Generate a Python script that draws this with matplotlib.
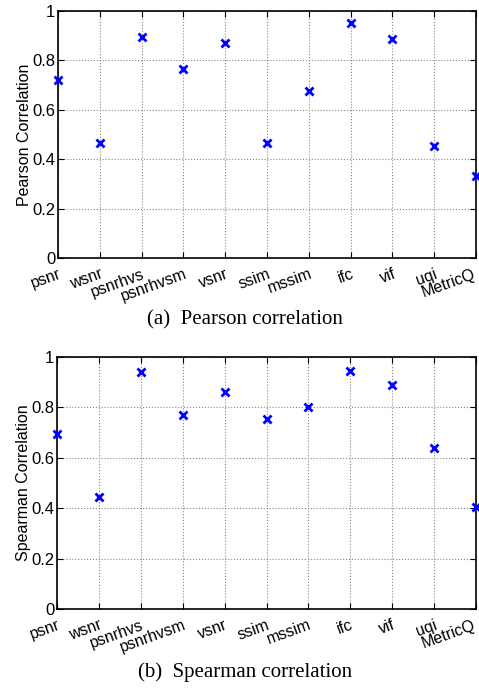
import matplotlib
matplotlib.use('Agg')
import matplotlib.pyplot as plt
import matplotlib.transforms as mtransforms

metrics = ['psnr', 'wsnr', 'psnrhvs', 'psnrhvsm', 'vsnr', 'ssim', 'mssim',
           'ifc', 'vif', 'uqi', 'MetricQ']
pearson = [0.72, 0.467, 0.896, 0.765, 0.872, 0.467, 0.675, 0.953, 0.885, 0.453, 0.332]
spearman = [0.696, 0.446, 0.942, 0.770, 0.860, 0.753, 0.802, 0.946, 0.890, 0.638, 0.406]

plt.rcParams['font.family'] = ['Liberation Sans', 'DejaVu Sans']

fig = plt.figure(figsize=(4.79, 6.89), dpi=100)
ax1 = fig.add_axes([0.121, 0.6255, 0.873, 0.3585])
ax2 = fig.add_axes([0.119, 0.116, 0.875, 0.366])

x = list(range(1, len(metrics) + 1))
shift = mtransforms.ScaledTranslation(-4 / 100, 0, fig.dpi_scale_trans)

def draw(ax, vals, ylabel):
    ax.plot(x, vals, 'x', color='#0000ff', markersize=6, markeredgewidth=2,
            linestyle='none', clip_on=False, zorder=5)
    ax.set_xlim(1, 11)
    ax.set_ylim(0, 1)
    ax.set_xticks(x)
    ax.set_xticklabels(metrics, rotation=20, ha='right', rotation_mode='anchor',
                       fontsize=11.5)
    ax.set_yticks([0, 0.2, 0.4, 0.6, 0.8, 1])
    ax.set_yticklabels(['0', '0.2', '0.4', '0.6', '0.8', '1'], fontsize=12)
    ax.set_ylabel(ylabel, fontsize=11.5, labelpad=0)
    ax.grid(True, linestyle=':', color='#888888', linewidth=0.8)
    ax.tick_params(direction='in', top=True, right=True, length=4)
    ax.tick_params(axis='x', pad=6)
    ax.tick_params(axis='y', pad=2)
    for s in ax.spines.values():
        s.set_linewidth(1.2)
    lab = ax.get_xticklabels()[-1]
    lab.set_transform(lab.get_transform() + shift)

draw(ax1, pearson, 'Pearson Correlation')
draw(ax2, spearman, 'Spearman Correlation')

fig.text(0.512, 1 - 320 / 689, '(a)  Pearson correlation', ha='center', va='center',
         fontsize=15, family='Liberation Serif')
fig.text(0.512, 1 - 672 / 689, '(b)  Spearman correlation', ha='center', va='center',
         fontsize=15, family='Liberation Serif')

fig.savefig('out.png', dpi=100)
